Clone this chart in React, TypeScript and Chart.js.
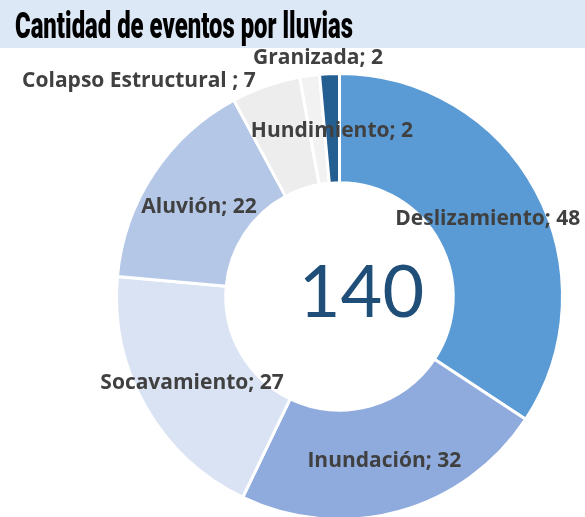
import React, { useEffect, useRef } from "react";
import { Chart, registerables } from "chart.js";

Chart.register(...registerables);

const title = "Cantidad de eventos por lluvias";
const categories = [
  "Deslizamiento",
  "Inundación",
  "Socavamiento",
  "Aluvión",
  "Colapso Estructural ",
  "Hundimiento",
  "Granizada",
];
const values = [48, 32, 27, 22, 7, 2, 2];
const colors = ["#5b9bd5", "#8faadc", "#dae3f3", "#b4c7e7", "#ededed", "#f2f2f2", "#255e91"];
// manual label displacement (like dragged Excel labels)
const labelOffsets: [number, number][] = [
  [0, 2],
  [0, 2],
  [-1, 3],
  [0, 3],
  [-145, -57],
  [15, 1],
  [-14, -70],
];

const decorPlugin = {
  id: "decor",
  beforeDraw(chart: any) {
    const ctx = chart.ctx;
    ctx.save();
    ctx.fillStyle = "#dce8f5";
    ctx.fillRect(0, 0, chart.width, 48);
    ctx.fillStyle = "#000000";
    ctx.font = "900 37px Roboto";
    ctx.textAlign = "left";
    ctx.textBaseline = "alphabetic";
    const w = ctx.measureText(title).width;
    const sx = 338 / w;
    ctx.translate(15, 38);
    ctx.scale(sx, 1);
    ctx.fillText(title, 0, 0);
    ctx.restore();
  },
  afterDatasetsDraw(chart: any) {
    const ctx = chart.ctx;
    const meta = chart.getDatasetMeta(0);
    ctx.save();
    ctx.font = "bold 21px 'Open Sans'";
    ctx.fillStyle = "#404040";
    ctx.textAlign = "center";
    ctx.textBaseline = "middle";
    meta.data.forEach((arc: any, i: number) => {
      const p = arc.tooltipPosition();
      const off = labelOffsets[i];
      ctx.fillText(`${categories[i]}; ${values[i]}`, p.x + off[0], p.y + off[1]);
    });
    const a0 = meta.data[0];
    const total = values.reduce((s, v) => s + v, 0);
    ctx.font = "72px Lato";
    ctx.fillStyle = "#1f4e79";
    ctx.fillText(String(total), a0.x + 22, a0.y - 3);
    ctx.restore();
  },
};

export default function App() {
  const ref = useRef<HTMLCanvasElement | null>(null);
  useEffect(() => {
    document.body.style.margin = "0";
    const chart = new Chart(ref.current!, {
      type: "doughnut",
      data: {
        labels: categories,
        datasets: [
          {
            data: values,
            backgroundColor: colors,
            borderColor: "#ffffff",
            borderWidth: 3,
          },
        ],
      },
      options: {
        responsive: false,
        animation: false,
        cutout: "51%",
        layout: { padding: { left: 115, right: 21, top: 72, bottom: 19 } },
        plugins: {
          legend: { display: false },
          tooltip: { enabled: false },
          title: { display: false },
        },
      },
      plugins: [decorPlugin],
    });
    return () => chart.destroy();
  }, []);
  return (
    <div style={{ width: 585, height: 517, overflow: "hidden", position: "relative", background: "#fff" }}>
      <canvas ref={ref} width={585} height={540} style={{ width: 585, height: 540, display: "block" }} />
    </div>
  );
}
